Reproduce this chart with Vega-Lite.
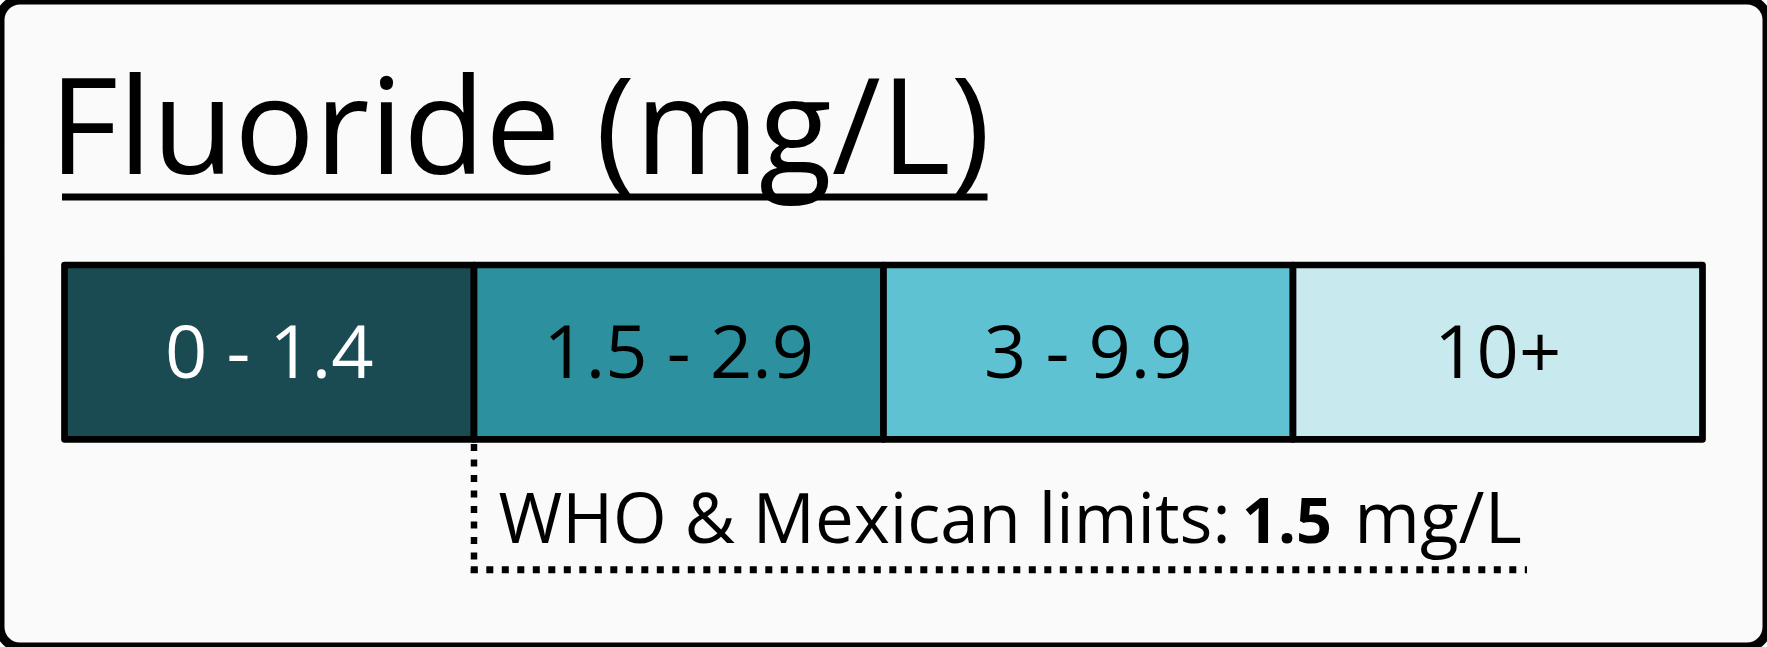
{
  "$schema": "https://vega.github.io/schema/vega-lite/v6.json",
  "width": 1767,
  "height": 647,
  "autosize": {"type": "fit", "contains": "padding"},
  "padding": 0,
  "background": "#ffffff",
  "config": {
    "view": {"fill": "#fafafa", "stroke": "#000000", "strokeWidth": 9, "cornerRadius": 20},
    "text": {"font": "Open Sans"}
  },
  "datasets": {
    "segments": [
      {"label": "0 - 1.4", "start": 0, "end": 1},
      {"label": "1.5 - 2.9", "start": 1, "end": 2},
      {"label": "3 - 9.9", "start": 2, "end": 3},
      {"label": "10+", "start": 3, "end": 4}
    ]
  },
  "layer": [
    {
      "data": {"values": [{"title": "Fluoride (mg/L)"}]},
      "mark": {"type": "text", "align": "left", "baseline": "alphabetic", "fontSize": 134, "color": "#000000"},
      "encoding": {
        "text": {"field": "title"},
        "x": {"datum": -0.0379, "type": "quantitative", "scale": {"domain": [-0.1575, 4.1575], "nice": false, "zero": false}, "axis": null},
        "y": {"datum": 174, "type": "quantitative", "scale": {"domain": [0, 647], "reverse": true, "nice": false, "zero": false}, "axis": null}
      }
    },
    {
      "data": {"values": [{"k": 1}]},
      "mark": {"type": "rule", "strokeWidth": 7, "color": "#000000", "strokeCap": "butt"},
      "encoding": {
        "x": {"datum": -0.0061, "type": "quantitative"},
        "x2": {"datum": 2.254},
        "y": {"datum": 197, "type": "quantitative"}
      }
    },
    {
      "data": {"name": "segments"},
      "mark": {"type": "rect", "stroke": "#000000", "strokeWidth": 6.7, "strokeJoin": "round"},
      "encoding": {
        "x": {"field": "start", "type": "quantitative"},
        "x2": {"field": "end"},
        "y": {"datum": 265, "type": "quantitative"},
        "y2": {"datum": 439.3},
        "color": {
          "field": "label", "type": "nominal",
          "scale": {"domain": ["0 - 1.4", "1.5 - 2.9", "3 - 9.9", "10+"], "range": ["#1a4a52", "#2d909f", "#5fc2d3", "#c8eaef"]},
          "legend": null
        }
      }
    },
    {
      "data": {"name": "segments"},
      "transform": [{"calculate": "datum.start + 0.5", "as": "mid"}],
      "mark": {"type": "text", "align": "center", "baseline": "alphabetic", "fontSize": 74},
      "encoding": {
        "x": {"field": "mid", "type": "quantitative"},
        "y": {"datum": 378, "type": "quantitative"},
        "text": {"field": "label"},
        "color": {"condition": {"test": "datum.label === '0 - 1.4'", "value": "#ffffff"}, "value": "#000000"}
      }
    },
    {
      "data": {"values": [{"k": 1}]},
      "mark": {"type": "rule", "strokeWidth": 6.5, "color": "#000000", "strokeDash": [7, 8.5], "strokeCap": "butt"},
      "encoding": {
        "x": {"datum": 1.0, "type": "quantitative"},
        "y": {"datum": 444, "type": "quantitative"},
        "y2": {"datum": 573}
      }
    },
    {
      "data": {"values": [{"k": 1}]},
      "mark": {"type": "rule", "strokeWidth": 7, "color": "#000000", "strokeDash": [7, 8.5], "strokeCap": "butt"},
      "encoding": {
        "x": {"datum": 0.9922, "type": "quantitative"},
        "x2": {"datum": 3.5714},
        "y": {"datum": 569.7, "type": "quantitative"}
      }
    },
    {
      "data": {"values": [{"t": "WHO & Mexican limits:"}]},
      "mark": {"type": "text", "align": "left", "baseline": "alphabetic", "fontSize": 69, "color": "#000000"},
      "encoding": {
        "x": {"datum": 1.0598, "type": "quantitative"},
        "y": {"datum": 543, "type": "quantitative"},
        "text": {"field": "t"}
      }
    },
    {
      "data": {"values": [{"t": "1.5"}]},
      "mark": {"type": "text", "align": "center", "baseline": "alphabetic", "fontSize": 63, "fontWeight": "bold", "color": "#000000"},
      "encoding": {
        "x": {"datum": 2.9853, "type": "quantitative"},
        "y": {"datum": 543, "type": "quantitative"},
        "text": {"field": "t"}
      }
    },
    {
      "data": {"values": [{"t": "mg/L"}]},
      "mark": {"type": "text", "align": "center", "baseline": "alphabetic", "fontSize": 71, "color": "#000000"},
      "encoding": {
        "x": {"datum": 3.3541, "type": "quantitative"},
        "y": {"datum": 543, "type": "quantitative"},
        "text": {"field": "t"}
      }
    }
  ]
}
